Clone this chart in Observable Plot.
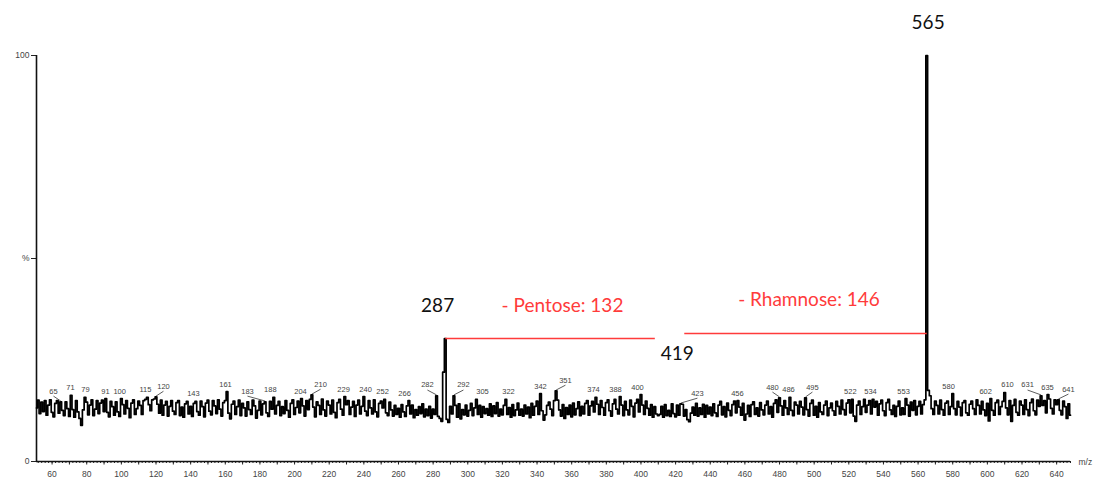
<!DOCTYPE html>
<html>
<head>
<meta charset="utf-8">
<script src="https://cdn.jsdelivr.net/npm/d3@7"></script>
<script src="https://cdn.jsdelivr.net/npm/@observablehq/plot@0.6"></script>
<style>
  html, body { margin: 0; padding: 0; background: #fff; }
  #chart { width: 1097px; height: 481px; }
</style>
</head>
<body>
<div id="chart"></div>
<script>
// Spectrum sampled at every integer m/z starting at 51 (relative abundance, %)
const mzStart = 51;
const intensity = [
  // 51-70
  13.2,15.1,11.8,14.6,12.3,15.0,11.4,13.9,15.2,12.1,11.0,14.3,15.0,11.9,14.7,12.6,11.3,14.7,13.0,11.1,
  // 71-90
  16.3,12.8,10.9,15.0,12.2,10.6,8.9,12.7,15.8,14.6,11.5,13.9,15.2,11.3,12.9,15.0,11.8,14.4,15.1,12.3,
  // 91-110
  15.5,12.1,11.0,14.8,13.5,11.4,14.7,12.2,11.1,15.5,14.0,11.7,15.0,13.1,10.8,14.4,15.2,11.6,13.0,14.9,
  // 111-130
  13.8,11.6,15.0,15.3,15.8,14.0,12.5,15.2,15.4,15.9,14.1,11.9,15.1,11.4,13.9,14.8,11.2,13.6,15.0,12.4,
  // 131-150
  11.6,14.5,15.0,11.3,13.4,10.9,14.2,14.8,11.7,13.6,11.1,14.3,14.8,12.3,11.4,14.9,13.5,11.0,14.4,15.1,
  // 151-170
  12.4,11.5,15.0,13.7,11.8,15.2,12.9,11.2,14.5,15.0,17.2,11.9,10.5,14.1,14.9,11.6,13.5,15.1,11.3,14.3,
  // 171-190
  13.2,11.2,14.7,12.8,11.6,15.1,13.7,10.7,12.6,14.9,11.5,14.2,14.7,12.0,11.1,14.8,12.9,15.8,11.7,13.8,
  // 191-210
  14.8,11.3,13.5,11.8,15.0,12.6,10.9,14.3,15.2,11.6,13.3,14.9,12.0,15.5,13.7,11.2,15.0,12.8,15.3,16.4,
  // 211-230
  13.4,11.0,14.7,13.8,11.6,15.4,12.7,11.2,14.9,13.9,11.7,15.1,12.1,10.8,14.5,15.3,12.9,11.4,16.0,14.0,
  // 231-250
  15.0,11.6,13.4,14.8,11.1,13.9,15.1,11.7,13.6,16.0,12.4,11.3,15.0,13.2,11.7,15.2,12.2,11.0,14.3,14.9,
  // 251-270
  13.2,15.3,12.0,11.3,14.6,12.7,11.2,13.8,11.6,13.1,10.9,14.0,12.2,11.1,13.7,15.0,11.7,13.9,10.8,12.8,
  // 271-290
  11.4,13.5,11.8,14.2,11.0,12.9,11.3,13.6,10.7,12.9,11.6,16.2,11.1,10.6,9.9,22.0,30.3,10.4,9.6,13.6,
  // 291-310
  11.7,16.2,13.8,10.9,14.2,10.5,12.8,11.5,13.9,11.2,12.6,14.3,11.3,13.2,15.3,11.6,13.8,10.9,13.5,11.8,
  // 311-330
  13.0,11.4,14.2,11.1,13.7,11.8,14.5,11.2,12.9,11.5,13.8,15.3,11.6,13.3,10.9,14.0,11.3,12.7,14.4,11.4,
  // 331-350
  12.9,11.2,13.9,11.7,13.4,10.8,14.3,11.4,13.6,14.9,11.6,16.7,12.5,10.2,11.5,13.8,14.6,12.9,11.3,15.0,
  // 351-370
  17.4,15.1,12.7,11.2,14.0,10.6,13.3,11.6,13.9,11.0,14.4,11.5,13.0,14.7,11.3,13.6,11.7,14.3,15.0,11.4,
  // 371-390
  13.7,14.8,12.2,15.8,14.1,11.6,15.0,13.3,11.4,14.5,15.2,12.5,11.2,14.2,15.3,12.9,11.7,16.0,13.9,11.3,
  // 391-410
  14.8,12.7,11.5,15.1,13.6,11.0,14.4,15.3,12.2,16.5,13.9,11.6,14.9,13.1,11.4,14.0,10.9,13.5,11.7,11.3,
  // 411-430
  11.6,13.6,10.9,14.0,11.3,12.6,11.1,14.2,11.8,11.0,13.9,11.4,14.2,14.1,11.2,12.8,10.3,9.8,11.9,13.4,
  // 431-450
  11.4,14.3,11.2,13.2,11.6,14.1,10.9,13.8,11.7,13.4,11.3,14.2,12.0,11.1,13.9,14.8,11.5,13.5,11.0,14.4,
  // 451-470
  12.6,11.3,14.0,14.9,12.0,15.0,13.4,11.4,14.3,10.2,11.7,13.8,11.1,14.0,14.7,11.6,13.2,11.2,14.5,12.7,
  // 471-490
  11.5,13.9,14.9,11.7,13.5,10.9,14.3,15.2,12.1,15.7,13.7,11.4,15.0,13.2,11.6,15.8,12.6,11.3,14.6,13.9,
  // 491-510
  11.7,14.8,13.4,11.5,15.7,12.8,11.2,14.3,15.1,11.4,13.6,10.9,14.5,12.2,11.6,13.9,14.9,11.3,13.2,14.4,
  // 511-530
  12.5,11.4,14.8,13.6,11.7,15.1,12.8,11.5,14.4,15.2,12.0,15.3,11.2,9.9,13.9,14.9,11.6,13.5,15.3,12.1,
  // 531-550
  13.9,15.0,11.7,15.3,13.4,14.8,11.4,14.2,15.1,12.5,11.3,14.5,15.3,12.7,11.6,13.8,11.1,13.6,14.9,11.5,
  // 551-570
  13.2,11.6,15.5,13.9,11.2,14.6,12.6,15.0,11.5,13.6,14.8,11.7,14.0,15.2,100,17.5,16.2,13.0,11.6,14.9,
  // 571-590
  13.8,11.7,15.1,12.8,11.4,14.4,14.9,11.6,13.5,16.7,13.0,11.5,14.8,13.4,11.3,14.5,15.0,12.0,11.4,14.1,
  // 591-610
  14.9,13.0,11.6,15.2,13.8,11.7,14.8,12.7,11.3,14.3,10.0,15.5,12.6,11.4,14.5,15.1,11.6,13.5,14.8,17.0,
  // 611-630
  13.2,11.5,15.0,9.9,13.8,15.3,12.1,11.4,14.9,13.9,11.6,15.2,12.8,11.3,14.5,15.4,12.5,11.5,15.1,13.6,
  // 631-648
  16.2,13.8,15.0,12.0,16.5,15.4,13.1,11.7,15.2,14.0,15.2,12.6,11.5,14.9,13.5,10.6,14.2,11.4
];

// Small peak labels: labelled m/z, where the label sits (m/z) and its height (%)
const peakMz = [65,71,79,91,100,115,120,143,161,183,188,204,210,229,240,252,266,282,292,305,322,342,351,374,388,400,423,456,480,486,495,522,534,553,580,602,610,631,635,641];
const labelMz = [60.8,70.6,79.3,90.8,99,113.9,124.3,141.6,160.1,172.8,186,203.4,215,228.3,241,250.8,263.5,276.7,297.5,308.5,323.5,342,356.4,372.6,385.3,398,432.6,455.7,475.9,485.2,499,520.9,532.5,551.6,577.6,599,611.6,623.2,634.7,646.8];
const labelHeight = [15.5,16.3,15.8,15.5,15.5,15.8,16.7,14.8,17.2,15.5,15.8,15.5,17.2,16.0,16.0,15.3,15.0,17.0,17.0,15.3,15.3,16.7,18.2,15.8,16.0,16.5,15.0,15.0,16.5,15.8,16.5,15.3,15.3,15.5,16.7,15.5,17.0,17.0,16.5,16.0];

// Main ions
const ionText = ["565", "287", "419"];
const ionMz = [565.8, 282.6, 421];
const ionY = [108, 38.4, 26.6];

// Neutral losses
const lossText = ["- Pentose: 132", "- Rhamnose: 146"];
const lossTextMz = [354.7, 497];
const lossTextY = [38.4, 39.7];
const lossFrom = [287, 425];
const lossTo = [408, 565];
const lossLevel = [30.3, 31.5];

// Axis ticks
const xTickLabels = [60,80,100,120,140,160,180,200,220,240,260,280,300,320,340,360,380,400,420,440,460,480,500,520,540,560,580,600,620,640];
const yTickValues = [0, 50, 100];
const yTickLabels = ["0", "%", "100"];

const spectrum = intensity.map((v, i) => ({mz: mzStart + i, v}));
const valueAt = (m) => intensity[m - mzStart];
const peaks = peakMz.map((m, i) => ({mz: m, lx: labelMz[i], h: labelHeight[i], t: String(m), top: valueAt(m)}));
const leaders = peaks.filter(p => Math.abs(p.lx - p.mz) >= 4);
const ions = ionText.map((t, i) => ({t, mz: ionMz[i], y: ionY[i]}));
const losses = lossText.map((t, i) => ({t, tx: lossTextMz[i], ty: lossTextY[i], x1: lossFrom[i], x2: lossTo[i], y: lossLevel[i]}));
const minorTicks = d3.range(52, 649, 2);
const midTicks = d3.range(60, 641, 10);

const chart = Plot.plot({
  width: 1097,
  height: 481,
  marginLeft: 36,
  marginRight: 27,
  marginTop: 55,
  marginBottom: 20,
  style: {fontFamily: "'Liberation Sans', Arial, sans-serif", background: "#fff", overflow: "visible"},
  x: {domain: [51, 648], axis: null},
  y: {domain: [0, 100], axis: null},
  marks: [
    Plot.axisX({ticks: minorTicks, tickSize: 2, text: null, stroke: "#222"}),
    Plot.axisX({ticks: midTicks, tickSize: 3.5, text: null, stroke: "#222"}),
    Plot.axisX({ticks: xTickLabels, tickSize: 0, tickPadding: 9, fontSize: 8.5, fill: "#444"}),
    Plot.axisY({ticks: yTickValues, tickSize: 5, tickPadding: 2, fontSize: 8.5, fill: "#444", stroke: "#222",
      tickFormat: (d) => yTickLabels[yTickValues.indexOf(d)]}),
    Plot.ruleY([0], {stroke: "#111", strokeWidth: 1.6}),
    Plot.ruleX([51], {y1: 0, y2: 100, stroke: "#111", strokeWidth: 1.6}),
    Plot.line(spectrum, {x: "mz", y: "v", curve: "step", stroke: "#000", strokeWidth: 1.7}),
    Plot.link(leaders, {x1: "lx", y1: (d) => d.h + 0.6, x2: "mz", y2: (d) => d.top + 0.2, stroke: "#333", strokeWidth: 0.8}),
    Plot.text(peaks, {x: "lx", y: "h", text: "t", dy: -5, lineAnchor: "bottom", fontSize: 7.5, fill: "#444"}),
    Plot.link(losses, {x1: "x1", x2: "x2", y1: "y", y2: "y", stroke: "#ff3b3b", strokeWidth: 1.5}),
    Plot.text(losses, {x: "tx", y: "ty", text: "t", fontSize: 19, fill: "#ff3b3b", fontFamily: "Lato, 'Open Sans', sans-serif"}),
    Plot.text(ions, {x: "mz", y: "y", text: "t", fontSize: 19, fill: "#111", fontFamily: "Lato, 'Open Sans', sans-serif"}),
    Plot.text(["m/z"], {x: 648, y: 0, dx: 8, dy: 1, textAnchor: "start", fontSize: 8.5, fill: "#444"})
  ]
});
document.getElementById("chart").appendChild(chart);
</script>
</body>
</html>
